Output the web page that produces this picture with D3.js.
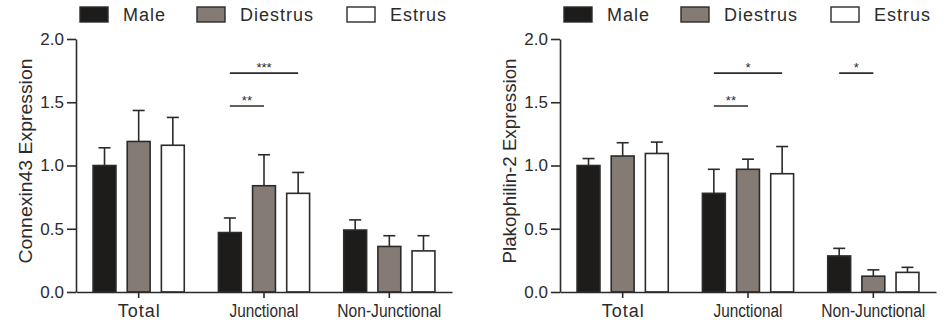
<!DOCTYPE html>
<html>
<head>
<meta charset="utf-8">
<script src="https://cdn.jsdelivr.net/npm/d3@7"></script>
<style>
  body { margin: 0; background: #fff; }
  svg { display: block; font-family: "Liberation Sans", Arial, sans-serif; }
</style>
</head>
<body>
<div id="chart"></div>
<script>
// categories and series
const categories = ['Total', 'Junctional', 'Non-Junctional'];
const groups = ['Male', 'Diestrus', 'Estrus'];
const yTicks = [0, 0.5, 1.0, 1.5, 2.0];

// Connexin43 (mean, error) per category -> [Male, Diestrus, Estrus]
const cx43Means = [[1.0, 1.19, 1.16], [0.47, 0.84, 0.78], [0.49, 0.36, 0.325]];
const cx43Errors = [[0.14, 0.245, 0.22], [0.115, 0.245, 0.165], [0.08, 0.085, 0.12]];
const cx43Sig = [
    { cat: 'Junctional', from: 'Male', to: 'Diestrus', level: 1.47, label: '**' },
    { cat: 'Junctional', from: 'Male', to: 'Estrus', level: 1.73, label: '***' }
];

// Plakophilin-2
const pkp2Means = [[1.0, 1.075, 1.095], [0.78, 0.97, 0.935], [0.285, 0.125, 0.155]];
const pkp2Errors = [[0.055, 0.105, 0.09], [0.19, 0.08, 0.215], [0.06, 0.05, 0.04]];
const pkp2Sig = [
    { cat: 'Junctional', from: 'Male', to: 'Diestrus', level: 1.47, label: '**' },
    { cat: 'Junctional', from: 'Male', to: 'Estrus', level: 1.73, label: '*' },
    { cat: 'Non-Junctional', from: 'Male', to: 'Diestrus', level: 1.73, label: '*' }
];

const colors = { Male: '#1e1c1a', Diestrus: '#857b75', Estrus: '#ffffff' };
const ink = '#2b2b2b';
const labelWidths = { 'Total': 42, 'Junctional': 69, 'Non-Junctional': 104 };

const svg = d3.select('#chart')
    .append('svg')
    .attr('width', 945)
    .attr('height', 325);

function drawChart(left, title, means, errors, sig) {

    const width = 376;
    const g = svg.append('g').attr('transform', 'translate(' + left + ',0)');

    // scales
    const x0 = d3.scaleBand().domain(categories).range([0, width]);
    const x1 = d3.scaleBand().domain(groups).range([0, x0.bandwidth()])
        .paddingInner(0.33).paddingOuter(0.5);
    const y = d3.scaleLinear().domain([0, 2]).range([292, 39]);

    // bars
    const cells = [];
    categories.forEach((c, i) => groups.forEach((s, j) => {
        cells.push({ cat: c, ser: s, mean: means[i][j], err: errors[i][j] });
    }));

    const bar = g.selectAll('.bar').data(cells).enter().append('g').attr('class', 'bar');

    bar.append('line')
        .attr('x1', d => x0(d.cat) + x1(d.ser) + x1.bandwidth() / 2)
        .attr('x2', d => x0(d.cat) + x1(d.ser) + x1.bandwidth() / 2)
        .attr('y1', d => y(d.mean))
        .attr('y2', d => y(d.mean + d.err))
        .attr('stroke', ink).attr('stroke-width', 1.6);

    bar.append('line')
        .attr('x1', d => x0(d.cat) + x1(d.ser) + x1.bandwidth() / 2 - 6)
        .attr('x2', d => x0(d.cat) + x1(d.ser) + x1.bandwidth() / 2 + 6)
        .attr('y1', d => y(d.mean + d.err))
        .attr('y2', d => y(d.mean + d.err))
        .attr('stroke', ink).attr('stroke-width', 1.6);

    bar.append('rect')
        .attr('x', d => x0(d.cat) + x1(d.ser))
        .attr('y', d => y(d.mean))
        .attr('width', x1.bandwidth())
        .attr('height', d => y(0) - y(d.mean))
        .attr('fill', d => colors[d.ser])
        .attr('stroke', ink).attr('stroke-width', 1.6);

    // y axis
    const yAxis = g.append('g')
        .call(d3.axisLeft(y).tickValues(yTicks).tickFormat(d3.format('.1f'))
            .tickSize(9).tickSizeOuter(0).tickPadding(3))
        .attr('font-family', null);
    yAxis.select('.domain').attr('stroke', ink).attr('stroke-width', 1.6);
    yAxis.selectAll('.tick line').attr('stroke', ink).attr('stroke-width', 1.6);
    yAxis.selectAll('.tick text').attr('fill', ink).style('font-size', '17px');

    // x axis
    const xAxis = g.append('g')
        .attr('transform', 'translate(0,' + y(0) + ')')
        .call(d3.axisBottom(x0).tickSize(6).tickSizeOuter(0))
        .attr('font-family', null);
    xAxis.select('.domain').attr('stroke', ink).attr('stroke-width', 1.6);
    xAxis.selectAll('.tick line').attr('stroke', ink).attr('stroke-width', 1.6);
    xAxis.selectAll('.tick text')
        .attr('fill', ink).attr('y', 25).attr('dy', 0)
        .style('font-size', '18px')
        .each(function(d) {
            // stretch short labels by spacing, squeeze long ones
            const natural = this.getComputedTextLength();
            d3.select(this)
                .attr('textLength', labelWidths[d])
                .attr('lengthAdjust', natural < labelWidths[d] ? 'spacing' : 'spacingAndGlyphs');
        });

    // y title
    g.append('text')
        .attr('transform', 'translate(-44,161) rotate(-90)')
        .attr('text-anchor', 'middle')
        .attr('fill', ink)
        .style('font-size', '19px')
        .attr('textLength', 205)
        .attr('lengthAdjust', 'spacingAndGlyphs')
        .text(title);

    // significance brackets
    const mid = (c, s) => x0(c) + x1(s) + x1.bandwidth() / 2;
    const sg = g.selectAll('.sig').data(sig).enter().append('g').attr('class', 'sig');
    sg.append('line')
        .attr('x1', d => mid(d.cat, d.from))
        .attr('x2', d => mid(d.cat, d.to))
        .attr('y1', d => y(d.level))
        .attr('y2', d => y(d.level))
        .attr('stroke', ink).attr('stroke-width', 1.6);
    sg.append('text')
        .attr('x', d => (mid(d.cat, d.from) + mid(d.cat, d.to)) / 2)
        .attr('y', d => y(d.level) - 1)
        .attr('text-anchor', 'middle')
        .attr('fill', ink)
        .style('font-size', '13px')
        .text(d => d.label);

    // legend
    const legendX = [4, 121, 271];
    const lg = g.selectAll('.legend').data(groups).enter().append('g')
        .attr('class', 'legend')
        .attr('transform', (d, i) => 'translate(' + legendX[i] + ',7)');
    lg.append('rect')
        .attr('width', 28).attr('height', 15)
        .attr('fill', d => colors[d])
        .attr('stroke', ink).attr('stroke-width', 1.4);
    lg.append('text')
        .attr('x', 43).attr('y', 14)
        .attr('fill', ink)
        .style('font-size', '18px')
        .style('letter-spacing', '1px')
        .text(d => d);
}

drawChart(76, 'Connexin43 Expression', cx43Means, cx43Errors, cx43Sig);
drawChart(560, 'Plakophilin-2 Expression', pkp2Means, pkp2Errors, pkp2Sig);
</script>
</body>
</html>
